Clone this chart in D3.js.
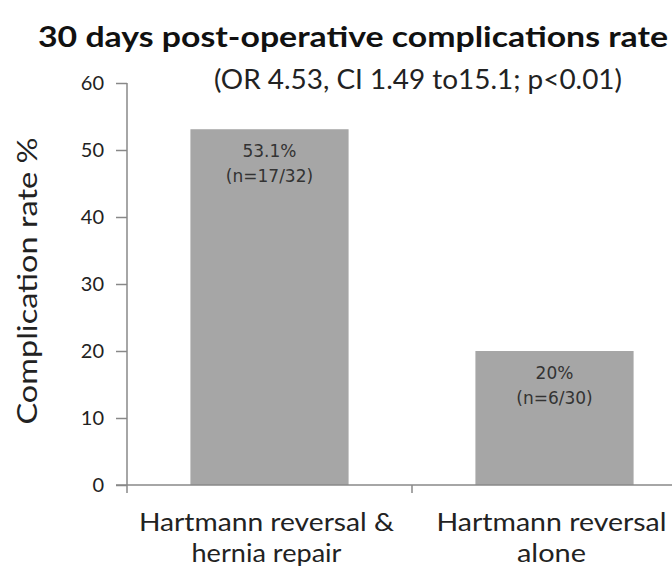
<!DOCTYPE html>
<html>
<head>
<meta charset="utf-8">
<script src="https://cdn.jsdelivr.net/npm/d3@7"></script>
<style>
  body { margin: 0; background: #fff; }
  text { font-family: Lato, "Open Sans", sans-serif; }
</style>
</head>
<body>
<div id="wrap"></div>
<script>
var categories = [["Hartmann reversal &", "hernia repair"], ["Hartmann reversal", "alone"]];
var rates = [53.1, 20];
var counts = ["(n=17/32)", "(n=6/30)"];
var rateLabels = ["53.1%", "20%"];
var yTicks = [0, 10, 20, 30, 40, 50, 60];

var w = 672;
var h = 573;

var svg = d3.select("#wrap").append("svg").attr("width", w).attr("height", h);

var x = d3.scaleBand().domain([0, 1]).range([127, 697]).paddingInner(0.445).paddingOuter(0.2225);
var y = d3.scaleLinear().domain([0, 60]).range([485, 83]);

// bars
svg.selectAll("rect.bar").data(rates).enter().append("rect")
  .attr("class", "bar")
  .attr("x", function(d, i) { return x(i); })
  .attr("width", x.bandwidth())
  .attr("y", function(d) { return y(d); })
  .attr("height", function(d) { return y(0) - y(d); })
  .attr("fill", "#a6a6a6");

// y axis
var yAxis = svg.append("g").attr("transform", "translate(127,0)")
  .call(d3.axisLeft(y).tickValues(yTicks).tickSize(11).tickPadding(12));
yAxis.select(".domain").attr("stroke", "#888").attr("stroke-width", 1.5)
  .attr("d", "M0," + y(60) + "V" + (y(0) + 8));
yAxis.selectAll(".tick line").attr("stroke", "#888").attr("stroke-width", 1.5);
yAxis.selectAll(".tick text").attr("font-size", 20).attr("fill", "#222")
  .style("font-family", "Lato, sans-serif");

// x axis
var xAxisLine = svg.append("g");
xAxisLine.append("line").attr("x1", 116).attr("x2", w).attr("y1", y(0)).attr("y2", y(0))
  .attr("stroke", "#888").attr("stroke-width", 1.5);
xAxisLine.append("line")
  .attr("x1", x(1) - x.step() * x.paddingInner() / 2).attr("x2", x(1) - x.step() * x.paddingInner() / 2)
  .attr("y1", y(0)).attr("y2", y(0) + 8)
  .attr("stroke", "#888").attr("stroke-width", 1.5);

// category labels
var catLen = [[255, 150], [230, 69]];
categories.forEach(function(lines, i) {
  var cx = x(i) + x.bandwidth() / 2;
  lines.forEach(function(t, j) {
    svg.append("text").attr("x", cx - 3).attr("y", 531 + j * 31)
      .attr("text-anchor", "middle").attr("font-size", 25).attr("fill", "#222")
      .attr("textLength", catLen[i][j]).attr("lengthAdjust", "spacingAndGlyphs")
      .text(t);
  });
});

// bar labels
svg.selectAll("text.rate").data(rateLabels).enter().append("text")
  .attr("class", "rate")
  .attr("x", function(d, i) { return x(i) + x.bandwidth() / 2; })
  .attr("y", function(d, i) { return y(rates[i]) + 28; })
  .attr("text-anchor", "middle").attr("font-size", 17).attr("fill", "#333")
  .style("font-family", "'DejaVu Sans', sans-serif")
  .text(function(d) { return d; });
svg.selectAll("text.count").data(counts).enter().append("text")
  .attr("class", "count")
  .attr("x", function(d, i) { return x(i) + x.bandwidth() / 2; })
  .attr("y", function(d, i) { return y(rates[i]) + 53; })
  .attr("text-anchor", "middle").attr("font-size", 17).attr("fill", "#333")
  .style("font-family", "'DejaVu Sans', sans-serif")
  .text(function(d) { return d; });

// y label
svg.append("text").attr("transform", "translate(37,281) rotate(-90)")
  .attr("text-anchor", "middle").attr("font-size", 27).attr("fill", "#222")
  .attr("textLength", 287).attr("lengthAdjust", "spacingAndGlyphs")
  .text("Complication rate %");

// title and subtitle
svg.append("text").attr("x", 38).attr("y", 47)
  .attr("font-size", 29).attr("font-weight", "bold").attr("fill", "#111")
  .attr("textLength", 630).attr("lengthAdjust", "spacingAndGlyphs")
  .text("30 days post-operative complications rate");
svg.append("text").attr("x", 214).attr("y", 89)
  .attr("font-size", 26).attr("fill", "#222")
  .attr("textLength", 408).attr("lengthAdjust", "spacingAndGlyphs")
  .text("(OR 4.53, CI 1.49 to15.1; p<0.01)");
</script>
</body>
</html>
